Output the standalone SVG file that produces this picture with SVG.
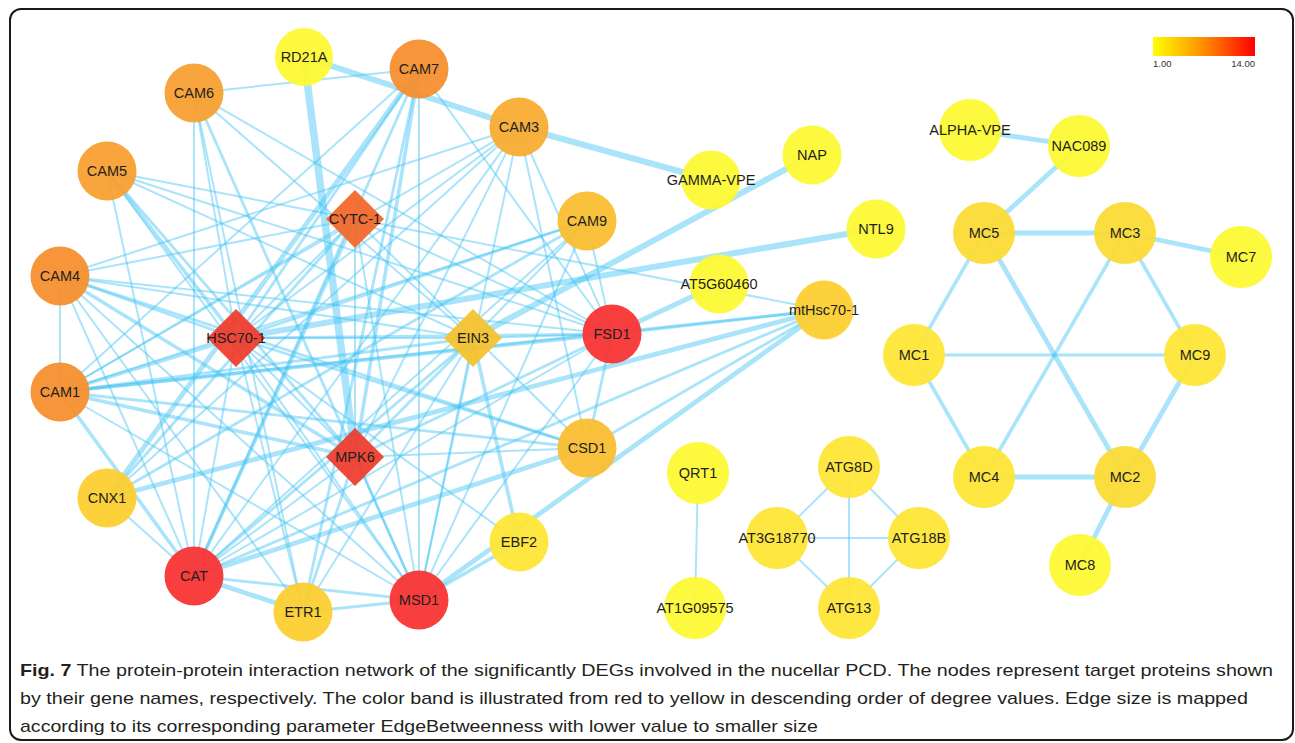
<svg xmlns="http://www.w3.org/2000/svg" width="1295" height="743" viewBox="0 0 1295 743">
<defs>
<linearGradient id="band" x1="0" y1="0" x2="1" y2="0">
<stop offset="0" stop-color="#FFFF00"/>
<stop offset="0.45" stop-color="#FF9900"/>
<stop offset="1" stop-color="#FF0000"/>
</linearGradient>
<style>
.frame{fill:#fff;stroke:#1a1a1a;stroke-width:2}
#edges line{stroke:#40C4F4;stroke-opacity:0.45;stroke-linecap:butt}
.w1{stroke-width:2}.w2{stroke-width:2.8}.w3{stroke-width:3.6}.w4{stroke-width:4.8}.w5{stroke-width:6}.w6{stroke-width:7.5}
.n{opacity:0.95}
.lbl{font-family:"Liberation Sans",Arial,sans-serif;font-size:14.5px;fill:#1e1e1e;text-anchor:middle}
.red{fill:#F93434}.dred{fill:#EF3E2E}.cyt{fill:#F2692B}
.o1{fill:#F78F2F}.o2{fill:#F8A033}.o3{fill:#F9AC33}.o4{fill:#FABE32}.ein{fill:#F5C22E}
.y1{fill:#FCCF32}.y2{fill:#FCDB35}.y3{fill:#FEE636}.y4{fill:#FDF934}
.leg{font-family:"Liberation Sans",Arial,sans-serif;font-size:9.5px;fill:#333}
.cap{font-family:"Liberation Sans Narrow","Liberation Sans",Arial,sans-serif;font-size:17px;fill:#231f20}
</style>
</defs>
<rect class="frame" x="10" y="9" width="1283" height="731" rx="11"/>
<g id="edges">
<line class="w6" x1="304" y1="57" x2="355" y2="457"/>
<line class="w5" x1="304" y1="57" x2="519" y2="127"/>
<line class="w5" x1="519" y1="127" x2="711" y2="180"/>
<line class="w5" x1="812" y1="155" x2="473" y2="338"/>
<line class="w5" x1="876" y1="229" x2="236" y2="338"/>
<line class="w4" x1="107" y1="498" x2="824" y2="310"/>
<line class="w4" x1="107" y1="498" x2="419" y2="69"/>
<line class="w4" x1="824" y1="310" x2="419" y2="600"/>
<line class="w4" x1="194" y1="576" x2="303" y2="612"/>
<line class="w4" x1="612" y1="334" x2="719" y2="284"/>
<line class="w4" x1="587" y1="448" x2="194" y2="576"/>
<line class="w3" x1="107" y1="171" x2="236" y2="338"/>
<line class="w2" x1="107" y1="171" x2="355" y2="457"/>
<line class="w3" x1="419" y1="69" x2="355" y2="457"/>
<line class="w3" x1="60" y1="392" x2="355" y2="457"/>
<line class="w3" x1="60" y1="392" x2="236" y2="338"/>
<line class="w3" x1="60" y1="392" x2="612" y2="334"/>
<line class="w2" x1="60" y1="392" x2="473" y2="338"/>
<line class="w2" x1="60" y1="276" x2="236" y2="338"/>
<line class="w3" x1="60" y1="276" x2="355" y2="457"/>
<line class="w3" x1="473" y1="338" x2="519" y2="542"/>
<line class="w3" x1="419" y1="600" x2="519" y2="542"/>
<line class="w2" x1="194" y1="93" x2="419" y2="600"/>
<line class="w2" x1="194" y1="576" x2="419" y2="600"/>
<line class="w2" x1="303" y1="612" x2="419" y2="600"/>
<line class="w2" x1="587" y1="448" x2="236" y2="338"/>
<line class="w3" x1="60" y1="392" x2="194" y2="576"/>
<line class="w2" x1="419" y1="69" x2="236" y2="338"/>
<line class="w3" x1="355" y1="219" x2="194" y2="576"/>
<line class="w1" x1="60" y1="276" x2="60" y2="392"/>
<line class="w1" x1="194" y1="93" x2="419" y2="69"/>
<line class="w1" x1="60" y1="276" x2="355" y2="219"/>
<line class="w1" x1="60" y1="276" x2="612" y2="334"/>
<line class="w1" x1="60" y1="276" x2="473" y2="338"/>
<line class="w2" x1="60" y1="276" x2="587" y2="448"/>
<line class="w1" x1="60" y1="276" x2="419" y2="600"/>
<line class="w1" x1="60" y1="276" x2="194" y2="576"/>
<line class="w1" x1="60" y1="276" x2="303" y2="612"/>
<line class="w1" x1="60" y1="392" x2="355" y2="219"/>
<line class="w1" x1="60" y1="392" x2="419" y2="69"/>
<line class="w2" x1="60" y1="392" x2="587" y2="448"/>
<line class="w1" x1="60" y1="392" x2="419" y2="600"/>
<line class="w2" x1="60" y1="392" x2="824" y2="310"/>
<line class="w1" x1="60" y1="392" x2="587" y2="221"/>
<line class="w1" x1="107" y1="171" x2="355" y2="219"/>
<line class="w1" x1="107" y1="171" x2="612" y2="334"/>
<line class="w1" x1="107" y1="171" x2="194" y2="576"/>
<line class="w1" x1="107" y1="171" x2="419" y2="600"/>
<line class="w1" x1="107" y1="171" x2="473" y2="338"/>
<line class="w1" x1="194" y1="93" x2="194" y2="576"/>
<line class="w1" x1="194" y1="93" x2="303" y2="612"/>
<line class="w1" x1="194" y1="93" x2="612" y2="334"/>
<line class="w1" x1="194" y1="93" x2="473" y2="338"/>
<line class="w1" x1="194" y1="93" x2="236" y2="338"/>
<line class="w1" x1="419" y1="69" x2="419" y2="600"/>
<line class="w2" x1="419" y1="69" x2="194" y2="576"/>
<line class="w1" x1="419" y1="69" x2="612" y2="334"/>
<line class="w2" x1="419" y1="69" x2="303" y2="612"/>
<line class="w1" x1="519" y1="127" x2="60" y2="276"/>
<line class="w1" x1="519" y1="127" x2="60" y2="392"/>
<line class="w1" x1="519" y1="127" x2="194" y2="576"/>
<line class="w1" x1="519" y1="127" x2="355" y2="457"/>
<line class="w1" x1="519" y1="127" x2="419" y2="600"/>
<line class="w1" x1="519" y1="127" x2="612" y2="334"/>
<line class="w1" x1="519" y1="127" x2="236" y2="338"/>
<line class="w1" x1="519" y1="127" x2="107" y2="498"/>
<line class="w1" x1="519" y1="127" x2="587" y2="448"/>
<line class="w1" x1="587" y1="221" x2="612" y2="334"/>
<line class="w2" x1="587" y1="221" x2="236" y2="338"/>
<line class="w1" x1="587" y1="221" x2="194" y2="576"/>
<line class="w1" x1="587" y1="221" x2="419" y2="600"/>
<line class="w1" x1="587" y1="221" x2="473" y2="338"/>
<line class="w2" x1="587" y1="221" x2="107" y2="498"/>
<line class="w1" x1="355" y1="219" x2="236" y2="338"/>
<line class="w1" x1="355" y1="219" x2="612" y2="334"/>
<line class="w1" x1="355" y1="219" x2="587" y2="448"/>
<line class="w1" x1="355" y1="219" x2="419" y2="600"/>
<line class="w1" x1="355" y1="219" x2="355" y2="457"/>
<line class="w1" x1="355" y1="219" x2="824" y2="310"/>
<line class="w2" x1="355" y1="219" x2="107" y2="498"/>
<line class="w1" x1="236" y1="338" x2="473" y2="338"/>
<line class="w2" x1="236" y1="338" x2="612" y2="334"/>
<line class="w1" x1="236" y1="338" x2="355" y2="457"/>
<line class="w1" x1="236" y1="338" x2="194" y2="576"/>
<line class="w1" x1="236" y1="338" x2="419" y2="600"/>
<line class="w1" x1="236" y1="338" x2="303" y2="612"/>
<line class="w1" x1="236" y1="338" x2="519" y2="542"/>
<line class="w2" x1="355" y1="457" x2="473" y2="338"/>
<line class="w2" x1="355" y1="457" x2="612" y2="334"/>
<line class="w1" x1="355" y1="457" x2="194" y2="576"/>
<line class="w1" x1="355" y1="457" x2="419" y2="600"/>
<line class="w2" x1="355" y1="457" x2="303" y2="612"/>
<line class="w1" x1="355" y1="457" x2="587" y2="448"/>
<line class="w1" x1="473" y1="338" x2="612" y2="334"/>
<line class="w2" x1="473" y1="338" x2="194" y2="576"/>
<line class="w1" x1="473" y1="338" x2="419" y2="600"/>
<line class="w1" x1="473" y1="338" x2="303" y2="612"/>
<line class="w2" x1="612" y1="334" x2="587" y2="448"/>
<line class="w2" x1="612" y1="334" x2="824" y2="310"/>
<line class="w1" x1="612" y1="334" x2="194" y2="576"/>
<line class="w1" x1="612" y1="334" x2="419" y2="600"/>
<line class="w2" x1="587" y1="448" x2="824" y2="310"/>
<line class="w2" x1="824" y1="310" x2="194" y2="576"/>
<line class="w1" x1="107" y1="498" x2="194" y2="576"/>
<line class="w4" x1="970" y1="130" x2="1079" y2="146"/>
<line class="w4" x1="1079" y1="146" x2="984" y2="233"/>
<line class="w4" x1="984" y1="233" x2="1125" y2="233"/>
<line class="w4" x1="1125" y1="233" x2="1241" y2="257"/>
<line class="w3" x1="984" y1="233" x2="914" y2="355"/>
<line class="w4" x1="984" y1="233" x2="1125" y2="477"/>
<line class="w3" x1="1125" y1="233" x2="984" y2="477"/>
<line class="w3" x1="1125" y1="233" x2="1195" y2="355"/>
<line class="w2" x1="914" y1="355" x2="1195" y2="355"/>
<line class="w3" x1="914" y1="355" x2="984" y2="477"/>
<line class="w4" x1="1195" y1="355" x2="1125" y2="477"/>
<line class="w4" x1="984" y1="477" x2="1125" y2="477"/>
<line class="w4" x1="1125" y1="477" x2="1080" y2="565"/>
<line class="w1" x1="698" y1="473" x2="695" y2="608"/>
<line class="w1" x1="849" y1="467" x2="777" y2="538"/>
<line class="w1" x1="849" y1="467" x2="919" y2="538"/>
<line class="w1" x1="849" y1="467" x2="849" y2="608"/>
<line class="w1" x1="777" y1="538" x2="919" y2="538"/>
<line class="w1" x1="777" y1="538" x2="849" y2="608"/>
<line class="w1" x1="919" y1="538" x2="849" y2="608"/>
</g>
<g id="RD21A"><circle class="n y4" cx="304" cy="57" r="29"/><text class="lbl" x="304" y="62">RD21A</text></g>
<g id="CAM7"><circle class="n o1" cx="419" cy="69" r="29.5"/><text class="lbl" x="419" y="74">CAM7</text></g>
<g id="CAM6"><circle class="n o2" cx="194" cy="93" r="29.5"/><text class="lbl" x="194" y="98">CAM6</text></g>
<g id="CAM3"><circle class="n o3" cx="519" cy="127" r="29.5"/><text class="lbl" x="519" y="132">CAM3</text></g>
<g id="CAM5"><circle class="n o2" cx="107" cy="171" r="29.5"/><text class="lbl" x="107" y="176">CAM5</text></g>
<g id="CYTC-1"><polygon class="n cyt" points="355,190 384,219 355,248 326,219"/><text class="lbl" x="355" y="224">CYTC-1</text></g>
<g id="CAM9"><circle class="n o4" cx="587" cy="221" r="29.5"/><text class="lbl" x="587" y="226">CAM9</text></g>
<g id="CAM4"><circle class="n o1" cx="60" cy="276" r="29.5"/><text class="lbl" x="60" y="281">CAM4</text></g>
<g id="HSC70-1"><polygon class="n dred" points="236,309 265,338 236,367 207,338"/><text class="lbl" x="236" y="343">HSC70-1</text></g>
<g id="EIN3"><polygon class="n ein" points="473,309 502,338 473,367 444,338"/><text class="lbl" x="473" y="343">EIN3</text></g>
<g id="FSD1"><circle class="n red" cx="612" cy="334" r="29.5"/><text class="lbl" x="612" y="339">FSD1</text></g>
<g id="CAM1"><circle class="n o1" cx="60" cy="392" r="29.5"/><text class="lbl" x="60" y="397">CAM1</text></g>
<g id="MPK6"><polygon class="n dred" points="355,428 384,457 355,486 326,457"/><text class="lbl" x="355" y="462">MPK6</text></g>
<g id="CSD1"><circle class="n o4" cx="587" cy="448" r="29.5"/><text class="lbl" x="587" y="453">CSD1</text></g>
<g id="CNX1"><circle class="n y1" cx="107" cy="498" r="29.5"/><text class="lbl" x="107" y="503">CNX1</text></g>
<g id="EBF2"><circle class="n y3" cx="519" cy="542" r="29.5"/><text class="lbl" x="519" y="547">EBF2</text></g>
<g id="CAT"><circle class="n red" cx="194" cy="576" r="29.5"/><text class="lbl" x="194" y="581">CAT</text></g>
<g id="MSD1"><circle class="n red" cx="419" cy="600" r="29.5"/><text class="lbl" x="419" y="605">MSD1</text></g>
<g id="ETR1"><circle class="n y1" cx="303" cy="612" r="29.5"/><text class="lbl" x="303" y="617">ETR1</text></g>
<g id="GAMMA-VPE"><circle class="n y4" cx="711" cy="180" r="29.5"/><text class="lbl" x="711" y="185">GAMMA-VPE</text></g>
<g id="NAP"><circle class="n y4" cx="812" cy="155" r="29.5"/><text class="lbl" x="812" y="160">NAP</text></g>
<g id="NTL9"><circle class="n y4" cx="876" cy="229" r="29.5"/><text class="lbl" x="876" y="234">NTL9</text></g>
<g id="AT5G60460"><circle class="n y4" cx="719" cy="284" r="29.5"/><text class="lbl" x="719" y="289">AT5G60460</text></g>
<g id="mtHsc70-1"><circle class="n y1" cx="824" cy="310" r="29.5"/><text class="lbl" x="824" y="315">mtHsc70-1</text></g>
<g id="ALPHA-VPE"><circle class="n y4" cx="970" cy="130" r="31"/><text class="lbl" x="970" y="135">ALPHA-VPE</text></g>
<g id="NAC089"><circle class="n y4" cx="1079" cy="146" r="31"/><text class="lbl" x="1079" y="151">NAC089</text></g>
<g id="MC5"><circle class="n y2" cx="984" cy="233" r="31"/><text class="lbl" x="984" y="238">MC5</text></g>
<g id="MC3"><circle class="n y2" cx="1125" cy="233" r="31"/><text class="lbl" x="1125" y="238">MC3</text></g>
<g id="MC7"><circle class="n y4" cx="1241" cy="257" r="31"/><text class="lbl" x="1241" y="262">MC7</text></g>
<g id="MC1"><circle class="n y3" cx="914" cy="355" r="31"/><text class="lbl" x="914" y="360">MC1</text></g>
<g id="MC9"><circle class="n y3" cx="1195" cy="355" r="31"/><text class="lbl" x="1195" y="360">MC9</text></g>
<g id="MC4"><circle class="n y3" cx="984" cy="477" r="31"/><text class="lbl" x="984" y="482">MC4</text></g>
<g id="MC2"><circle class="n y2" cx="1125" cy="477" r="31"/><text class="lbl" x="1125" y="482">MC2</text></g>
<g id="MC8"><circle class="n y4" cx="1080" cy="565" r="31"/><text class="lbl" x="1080" y="570">MC8</text></g>
<g id="QRT1"><circle class="n y4" cx="698" cy="473" r="31"/><text class="lbl" x="698" y="478">QRT1</text></g>
<g id="AT1G09575"><circle class="n y4" cx="695" cy="608" r="31"/><text class="lbl" x="695" y="613">AT1G09575</text></g>
<g id="ATG8D"><circle class="n y3" cx="849" cy="467" r="31"/><text class="lbl" x="849" y="472">ATG8D</text></g>
<g id="AT3G18770"><circle class="n y3" cx="777" cy="538" r="31"/><text class="lbl" x="777" y="543">AT3G18770</text></g>
<g id="ATG18B"><circle class="n y3" cx="919" cy="538" r="31"/><text class="lbl" x="919" y="543">ATG18B</text></g>
<g id="ATG13"><circle class="n y3" cx="849" cy="608" r="31"/><text class="lbl" x="849" y="613">ATG13</text></g>
<g id="legend">
<rect x="1153" y="37" width="102" height="19" fill="url(#band)"/>
<text class="leg" x="1153" y="67">1.00</text>
<text class="leg" x="1255" y="67" text-anchor="end">14.00</text>
</g>
<g id="caption">
<text class="cap" x="20" y="676" textLength="1253" lengthAdjust="spacingAndGlyphs"><tspan font-weight="bold">Fig. 7</tspan> The protein-protein interaction network of the significantly DEGs involved in the nucellar PCD. The nodes represent target proteins shown</text>
<text class="cap" x="20" y="704" textLength="1228" lengthAdjust="spacingAndGlyphs">by their gene names, respectively. The color band is illustrated from red to yellow in descending order of degree values. Edge size is mapped</text>
<text class="cap" x="20" y="732" textLength="798" lengthAdjust="spacingAndGlyphs">according to its corresponding parameter EdgeBetweenness with lower value to smaller size</text>
</g>
</svg>
